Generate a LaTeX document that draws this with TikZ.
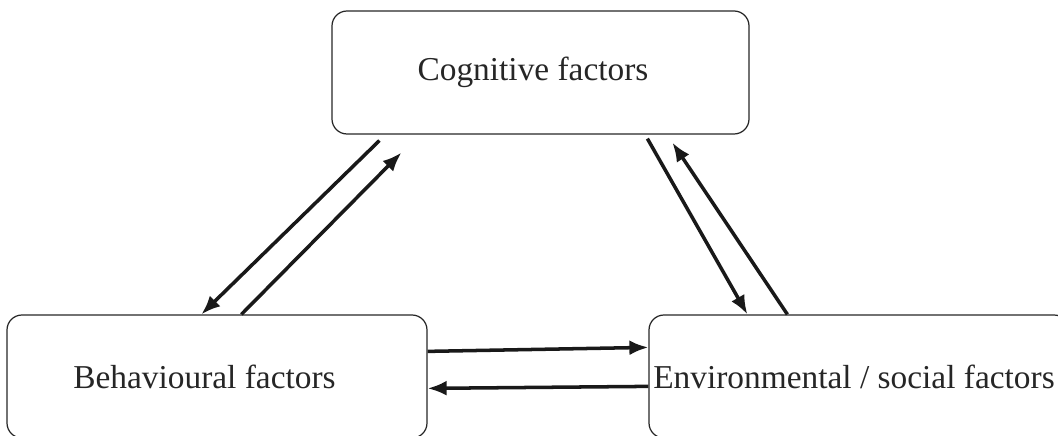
\documentclass[tikz,border=0pt]{standalone}
\usepackage{fontspec}
\setmainfont{Liberation Serif}
\usetikzlibrary{arrows.meta,calc}
\begin{document}
\begin{tikzpicture}[
	factor/.style={draw=black!85, line width=0.7pt, rounded corners=0.3cm, minimum width=8.4cm, minimum height=2.46cm, inner sep=0pt, font=\fontsize{19}{22}\selectfont, text=black!85},
	link/.style={line width=2pt, black!90, -{Latex[length=3.8mm,width=3mm]}}]
	\useasboundingbox (0,0) rectangle (21.16,8.72);
	\node[factor, minimum width=8.34cm] (cog) at (10.81,7.27) {\hspace{-0.3cm}Cognitive factors};
	\node[factor] (beh) at (4.34,1.19) {\hspace{-0.5cm}Behavioural factors};
	\node[factor] (env) at (17.18,1.19) {\hspace{-0.2cm}Environmental / social factors};
	\draw[link] ($(cog.south west)+(0.96,-0.12)$) -- ($(beh.north west)+(3.90,0)$);
	\draw[link] ($(beh.north west)+(4.70,0)$) -- ($(cog.south west)+(1.40,-0.36)$);
	\draw[link] ($(cog.south west)+(6.32,-0.08)$) -- ($(env.north west)+(1.98,0)$);
	\draw[link] ($(env.north west)+(2.78,0)$) -- ($(cog.south west)+(6.82,-0.16)$);
	\draw[link] ($(beh.north east)+(0,-0.74)$) -- ($(env.north west)+(0,-0.66)$);
	\draw[link] ($(env.north west)+(0,-1.44)$) -- ($(beh.north east)+(0,-1.48)$);
\end{tikzpicture}
\end{document}
